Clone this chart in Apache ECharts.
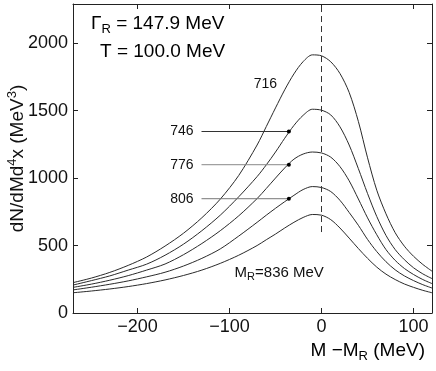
<!DOCTYPE html>
<html>
<head>
<meta charset="utf-8">
<script src="https://cdn.jsdelivr.net/npm/echarts@6/dist/echarts.min.js"></script>
<style>html,body{margin:0;padding:0;background:#fff}#c{width:436px;height:371px}</style>
</head>
<body>
<div id="c"></div>
<script>
// ---- data ----
const xValues = [-270,-250,-230,-210,-190,-170,-150,-130,-110,-90,-70,-60,-50,-40,-30,-20,-10,0,10,20,30,40,50,60,70,80,90,100,110,120];
const curve716 = [225,259,301,353,415,496,591,706,844,1019,1245,1382,1520,1654,1772,1863,1913,1906,1862,1775,1635,1420,1150,910,735,595,495,420,360,310];
const curve746 = [207,240,275,318,362,428,510,610,725,861,1011,1098,1193,1295,1390,1465,1510,1503,1468,1380,1245,1070,885,715,575,470,395,335,290,255];
const curve776 = [190,214,243,277,318,363,432,515,610,720,848,923,1000,1075,1140,1178,1193,1186,1155,1085,980,845,705,580,470,390,330,285,248,218];
const curve806 = [171,191,213,238,268,302,348,405,475,570,672,725,776,825,872,915,937,930,900,835,745,650,545,455,380,320,275,240,210,185];
const curve836 = [150,163,178,196,218,245,278,318,368,428,500,543,585,630,672,708,730,725,692,630,555,478,405,340,288,248,215,190,168,150];
const curves = [curve716, curve746, curve776, curve806, curve836];

const xTicks = [-200,-100,0,100];
const yTicks = [0,500,1000,1500,2000];
const xRange = [-270,120];
const yRange = [0,2290];

// pointer lines: label (right edge x), start x, dot x, y
const pointerLabels = ['746','776','806'];
const pointerLabelRightX = -138.5;
const pointerStartX = -130.4;
const pointerDotX = -35.5;
const pointerY = [1345,1099,847];
const pointerColors = ['#333','#888','#777'];

const label716 = {text:'716', rightX:-47.8, y:1695};
const labelMR = {leftX:-95, y:298};
const dashX = 0, dashY = [600, 2290];

// ---- chart ----
const chart = echarts.init(document.getElementById('c'));
const FONT = '"Liberation Sans", Arial, Helvetica, sans-serif';
const minus = v => String(v).replace('-', '\u2212');
const frame = {show:true, onZero:false, lineStyle:{color:'#222', width:1}};
const tick = {inside:true, length:5, lineStyle:{color:'#222'}};

const series = curves.map(c => ({
  type:'line', xAxisIndex:0, yAxisIndex:0, smooth:0.3, showSymbol:false, silent:true,
  lineStyle:{color:'#2a2a2a', width:1},
  data: xValues.map((x,i)=>[x,c[i]])
}));

series[0].markLine = {
  silent:true, symbol:['none','none'], label:{show:false},
  lineStyle:{color:'#333', type:[6,4], width:1},
  data:[[{coord:[dashX,dashY[0]]},{coord:[dashX,dashY[1]]}]]
};

pointerY.forEach((y,i)=>{
  series.push({
    type:'line', silent:true, showSymbol:true, symbol:'circle',
    symbolSize:(v,p)=> p.dataIndex===1 ? 4 : 0,
    itemStyle:{color:'#000'},
    lineStyle:{color:pointerColors[i], width:1},
    data:[[pointerStartX,y],[pointerDotX,y]]
  });
});

series.push({
  type:'scatter', silent:true, symbolSize:1, itemStyle:{opacity:0},
  label:{show:true, position:'left', distance:0, fontFamily:FONT, fontSize:14, color:'#111', opacity:1,
         textBorderWidth:0, formatter:p=>p.data[2]},
  data: pointerLabels.map((t,i)=>[pointerLabelRightX, pointerY[i], t]).concat([[label716.rightX,label716.y,label716.text]])
});

series.push({
  type:'scatter', silent:true, symbolSize:1, itemStyle:{opacity:0},
  label:{show:true, position:'right', distance:0, fontFamily:FONT, color:'#111', opacity:1, textBorderWidth:0,
    formatter:'{n|M}{s|R}{n|=836 MeV}',
    rich:{n:{fontSize:15, fontFamily:FONT, color:'#111', lineHeight:20, verticalAlign:'middle'},
          s:{fontSize:11, fontFamily:FONT, color:'#111', lineHeight:11, verticalAlign:'bottom'}}},
  data:[[labelMR.leftX, labelMR.y]]
});

const richBase = {
  n:{fontSize:19, fontFamily:FONT, color:'#111', lineHeight:24, verticalAlign:'middle'},
  s:{fontSize:13, fontFamily:FONT, color:'#111', lineHeight:13, verticalAlign:'bottom'},
  p:{fontSize:13, fontFamily:FONT, color:'#111', lineHeight:13, verticalAlign:'top'}
};

chart.setOption({
  animation:false,
  backgroundColor:'#fff',
  grid:{left:73, right:4, top:4, bottom:58, containLabel:false, outerBoundsMode:'none'},
  xAxis:[
    {type:'value', min:xRange[0], max:xRange[1], position:'bottom',
     axisLine:frame, axisTick:Object.assign({customValues:xTicks}, tick),
     axisLabel:{customValues:xTicks, fontFamily:FONT, fontSize:18, color:'#111', margin:5, formatter:minus},
     splitLine:{show:false}},
    {type:'value', min:xRange[0], max:xRange[1], position:'top',
     axisLine:frame, axisTick:Object.assign({customValues:xTicks}, tick),
     axisLabel:{show:false}, splitLine:{show:false}}
  ],
  yAxis:[
    {type:'value', min:yRange[0], max:yRange[1], position:'left',
     axisLine:frame, axisTick:Object.assign({customValues:yTicks}, tick),
     axisLabel:{customValues:yTicks, fontFamily:FONT, fontSize:18, color:'#111', margin:5, formatter:v=>String(v)},
     splitLine:{show:false},
     name:'{n|dN/dMd}{p|4}{n|x (MeV}{p|3}{n|)}', nameLocation:'middle', nameGap:43, nameMoveOverlap:false,
     nameTextStyle:{rich:richBase}},
    {type:'value', min:yRange[0], max:yRange[1], position:'right',
     axisLine:frame, axisTick:Object.assign({customValues:yTicks}, tick),
     axisLabel:{show:false}, splitLine:{show:false}}
  ],
  graphic:[
    {type:'text', left:91, top:14, style:{text:'{n|\u0393}{s|R}{n| = 147.9 MeV}', rich:richBase}},
    {type:'text', left:100, top:42, style:{text:'{n|T = 100.0 MeV}', rich:richBase}},
    {type:'text', right:11, top:341, style:{text:'{n|M \u2212M}{s|R}{n| (MeV)}', rich:richBase}}
  ],
  series:series
});
</script>
</body>
</html>
